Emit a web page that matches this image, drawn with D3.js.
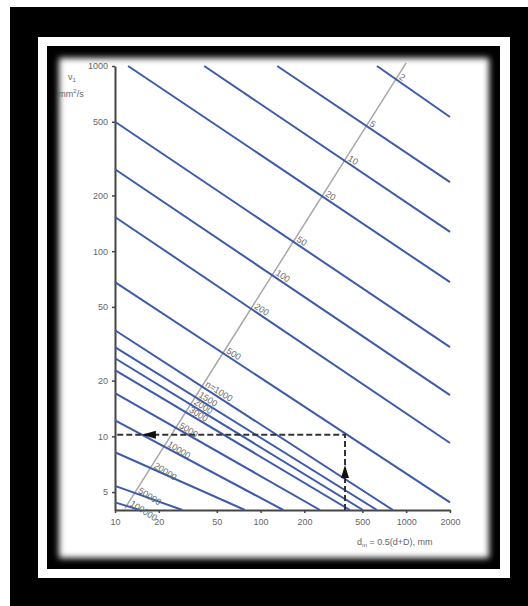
<!DOCTYPE html>
<html>
<head>
<meta charset="utf-8">
<script src="https://cdn.jsdelivr.net/npm/d3@7"></script>
<style>
  html, body { margin: 0; padding: 0; background: #fff; }
  svg { display: block; font-family: "Liberation Sans", Arial, sans-serif; }
  .axis path, .axis line { stroke: #444; }
  .axis text { fill: #666; font-size: 9px; }
</style>
</head>
<body>
<div id="chart"></div>
<script>
const WIDTH = 528, HEIGHT = 606;

// speed lines n (r/min): start and end points (dm in mm, nu in mm2/s)
const speeds  = ["2", "5", "10", "20", "50", "100", "200", "500", "n=1000", "1500", "2000", "3000", "5000", "10000", "20000", "50000", "100000"];
const startDm = [630, 130, 41, 12.3, 10, 10, 10, 10, 10, 10, 10, 10, 10, 10, 10, 10, 10];
const startNu = [1000, 1000, 1000, 1000, 500, 277, 153, 68, 37.4, 30.3, 26.4, 22.8, 17.1, 12.2, 8.2, 5.4, 4.4];
const endDm   = [2000, 2000, 2000, 2000, 2000, 2000, 2000, 2000, 811, 630, 505, 411, 256, 143, 78, 29, 14.8];
const endNu   = [530, 236, 127, 68, 30.3, 16.7, 9.2, 4.4, 4, 4, 4, 4, 4, 4, 4, 4, 4];

// grey reference line the speed labels sit on
const diagDm = [11.7, 1000];
const diagNu = [4.08, 1040];

// dashed reading example
const guideDm = [380, 380, 10];
const guideNu = [4, 10.2, 10.2];
const arrowUp = [380, 7.0];
const arrowLeft = [15.3, 10.2];

const xTicks = [10, 20, 50, 100, 200, 500, 1000, 2000];
const yTicks = [1000, 500, 200, 100, 50, 20, 10, 5];

const svg = d3.select("#chart").append("svg")
  .attr("width", WIDTH).attr("height", HEIGHT);

// picture frame
const defs = svg.append("defs");
defs.append("filter").attr("id", "soft")
  .attr("x", "-5%").attr("y", "-5%").attr("width", "110%").attr("height", "110%")
  .append("feGaussianBlur").attr("stdDeviation", 3);

svg.append("rect").attr("x", 10).attr("y", 7).attr("width", WIDTH - 10).attr("height", HEIGHT - 7).attr("fill", "#000");
svg.append("rect").attr("x", 38).attr("y", 37).attr("width", 472).attr("height", 541).attr("fill", "#fff");
svg.append("rect").attr("x", 47).attr("y", 46).attr("width", 453).attr("height", 523).attr("fill", "#000");
svg.append("rect").attr("x", 59).attr("y", 58).attr("width", 430).attr("height", 500)
  .attr("fill", "#fff").attr("filter", "url(#soft)");

const x = d3.scaleLog().domain([10, 2000]).range([115, 450]);
const y = d3.scaleLog().domain([4, 1000]).range([510, 66]);

// axes
const yAxis = svg.append("g").attr("class", "axis")
  .attr("transform", `translate(${x(10)},0)`)
  .call(d3.axisLeft(y).tickValues(yTicks).tickFormat(d3.format("d")).tickSize(3).tickPadding(4).tickSizeOuter(0));
yAxis.select(".domain").attr("stroke-width", 2);
yAxis.selectAll(".tick line").attr("stroke-width", 1.5);

const xAxis = svg.append("g").attr("class", "axis")
  .attr("transform", `translate(0,${y(4)})`)
  .call(d3.axisBottom(x).tickValues(xTicks).tickFormat(d3.format("d")).tickSize(3).tickPadding(6).tickSizeOuter(0));
xAxis.select(".domain").attr("stroke-width", 2);
xAxis.selectAll(".tick line").attr("stroke-width", 1.5);

// grey diagonal
const diag = diagDm.map((d, i) => [x(d), y(diagNu[i])]);
svg.append("line")
  .attr("x1", diag[0][0]).attr("y1", diag[0][1])
  .attr("x2", diag[1][0]).attr("y2", diag[1][1])
  .attr("stroke", "#a8a8a8").attr("stroke-width", 1.5);

// speed lines
const lines = speeds.map((n, i) => ({
  n,
  p1: [x(startDm[i]), y(startNu[i])],
  p2: [x(endDm[i]), y(endNu[i])]
}));

svg.selectAll(".speed").data(lines).join("line")
  .attr("class", "speed")
  .attr("x1", d => d.p1[0]).attr("y1", d => d.p1[1])
  .attr("x2", d => d.p2[0]).attr("y2", d => d.p2[1])
  .attr("stroke", "#3d5ba9").attr("stroke-width", 2);

// label position = where the speed line crosses the grey line
function cross(a1, a2, b1, b2) {
  const d = (a1[0] - a2[0]) * (b1[1] - b2[1]) - (a1[1] - a2[1]) * (b1[0] - b2[0]);
  const t = ((a1[0] - b1[0]) * (b1[1] - b2[1]) - (a1[1] - b1[1]) * (b1[0] - b2[0])) / d;
  return [a1[0] + t * (a2[0] - a1[0]), a1[1] + t * (a2[1] - a1[1])];
}
const diagAngle = Math.atan2(diag[1][1] - diag[0][1], diag[1][0] - diag[0][0]) * 180 / Math.PI;
const labelAngle = diagAngle + 90;

svg.selectAll(".nlabel").data(lines).join("text")
  .attr("class", "nlabel")
  .attr("transform", d => {
    const p = cross(d.p1, d.p2, diag[0], diag[1]);
    return `translate(${p[0]},${p[1]}) rotate(${labelAngle})`;
  })
  .attr("x", 2).attr("y", -2)
  .attr("font-size", 9).attr("fill", "#666")
  .text(d => d.n);

// dashed example path with arrows
const guide = d3.line().x(d => x(d[0])).y(d => y(d[1]));
svg.append("path")
  .attr("d", guide(guideDm.map((d, i) => [d, guideNu[i]])))
  .attr("fill", "none").attr("stroke", "#333")
  .attr("stroke-width", 2).attr("stroke-dasharray", "6,3");

svg.append("path")
  .attr("transform", `translate(${x(arrowUp[0])},${y(arrowUp[1])})`)
  .attr("d", "M0,0 L-4,13 L4,13 Z").attr("fill", "#111");
svg.append("path")
  .attr("transform", `translate(${x(arrowLeft[0])},${y(arrowLeft[1])})`)
  .attr("d", "M0,0 L14,-4 L14,4 Z").attr("fill", "#111");

// axis titles
const yt = svg.append("text").attr("x", 72).attr("y", 80)
  .attr("font-size", 9).attr("fill", "#666").attr("text-anchor", "middle");
yt.append("tspan").text("ν");
yt.append("tspan").attr("font-size", 6).attr("dy", 2).text("1");
const yu = svg.append("text").attr("x", 71).attr("y", 97)
  .attr("font-size", 9).attr("fill", "#666").attr("text-anchor", "middle");
yu.append("tspan").text("mm");
yu.append("tspan").attr("font-size", 6).attr("dy", -4).text("2");
yu.append("tspan").attr("dy", 4).text("/s");

const xt = svg.append("text").attr("x", 357).attr("y", 545)
  .attr("font-size", 9).attr("fill", "#666");
xt.append("tspan").text("d");
xt.append("tspan").attr("font-size", 6).attr("dy", 2).text("m");
xt.append("tspan").attr("dy", -2).text(" = 0.5(d+D), mm");
</script>
</body>
</html>
